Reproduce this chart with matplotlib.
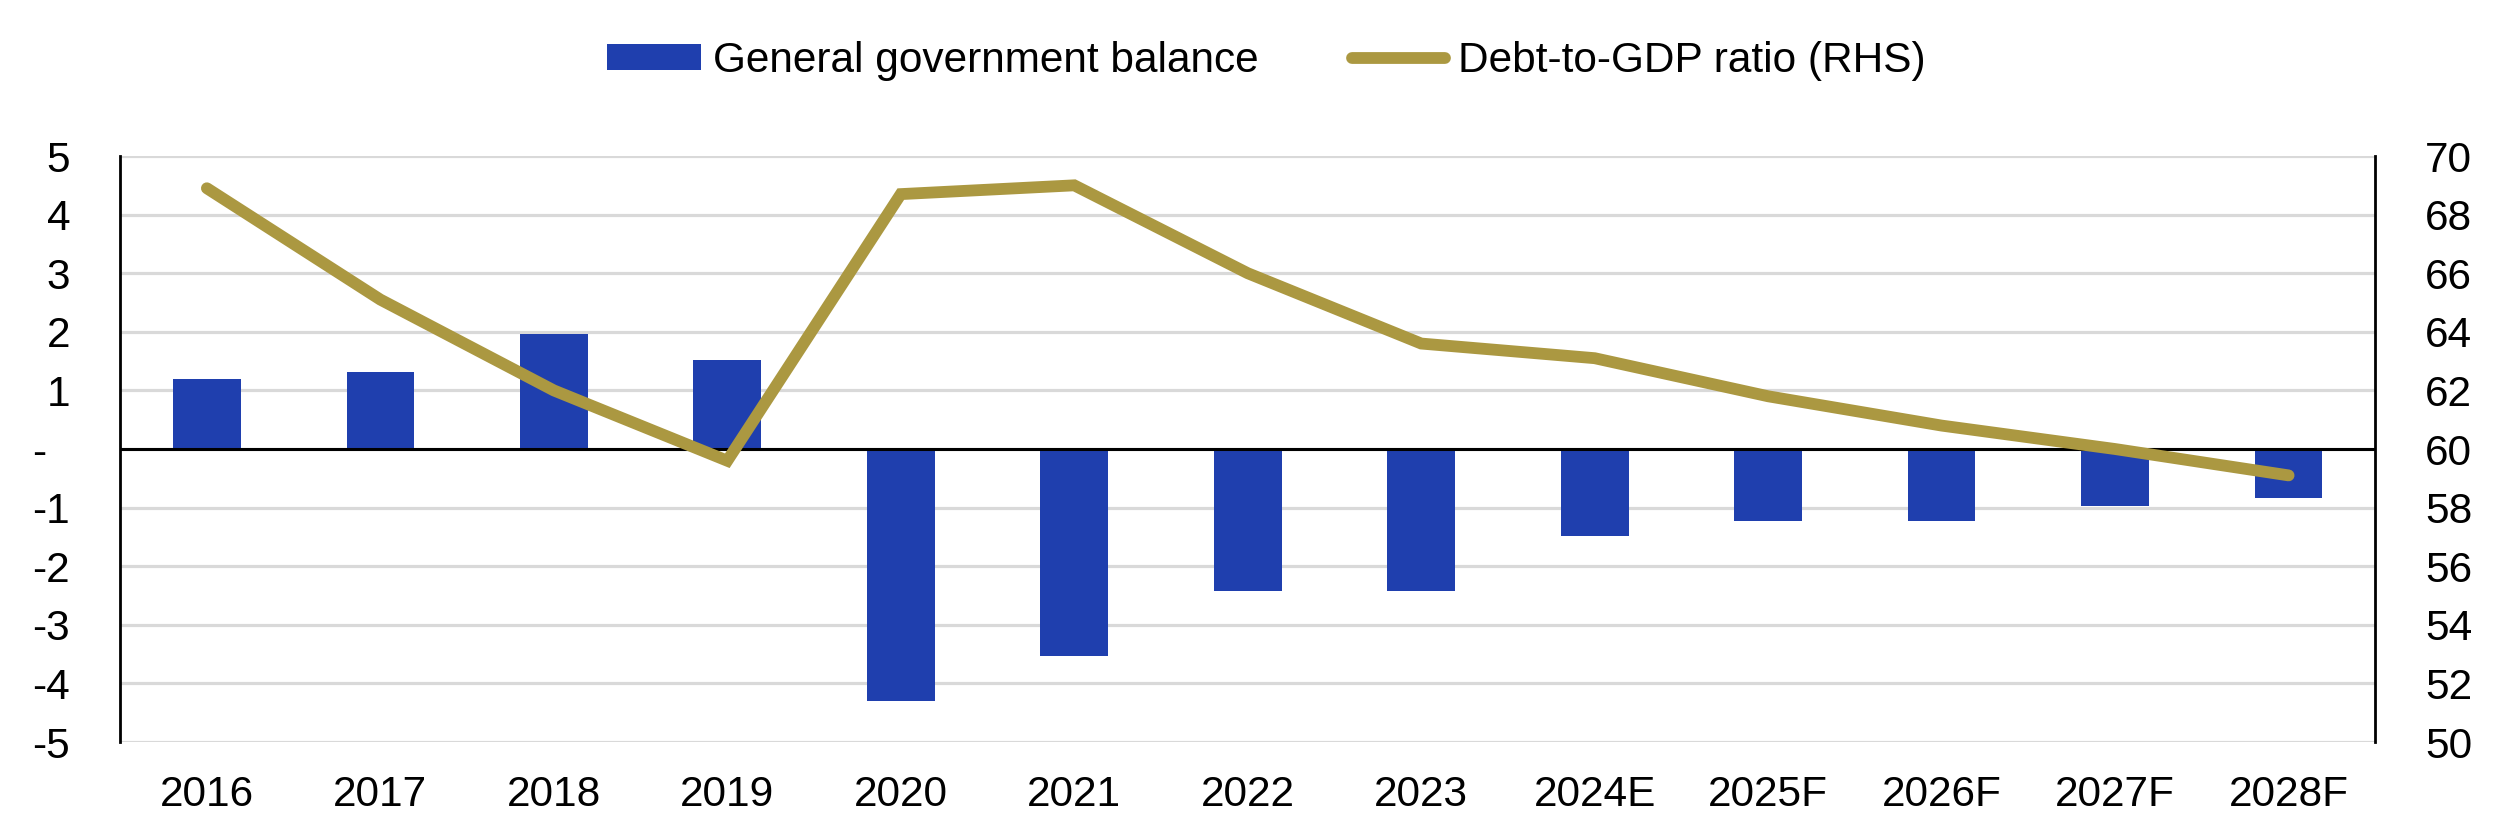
import matplotlib
matplotlib.use("Agg")
import matplotlib.pyplot as plt
import numpy as np

plt.rcParams['font.family'] = ['Liberation Sans', 'DejaVu Sans']

categories = ["2016", "2017", "2018", "2019", "2020", "2021", "2022", "2023",
              "2024E", "2025F", "2026F", "2027F", "2028F"]
balance = [1.19, 1.31, 1.96, 1.52, -4.3, -3.53, -2.43, -2.43, -1.48, -1.22, -1.22, -0.97, -0.84]
debt = [68.9, 65.1, 62.0, 59.6, 68.7, 69.0, 66.0, 63.6, 63.1, 61.8, 60.8, 60.0, 59.1]

left_ticks = [5, 4, 3, 2, 1, 0, -1, -2, -3, -4, -5]
left_labels = ["5", "4", "3", "2", "1", "-  ", "-1", "-2", "-3", "-4", "-5"]
right_ticks = [50, 52, 54, 56, 58, 60, 62, 64, 66, 68, 70]

BLUE = "#1f3fae"
GOLD = "#ab9841"
GRID = "#d9d9d9"
FS = 30.5

fig = plt.figure(figsize=(25.03, 8.33), dpi=100)
ax = fig.add_axes([0.048, 0.1092, 0.901, 0.7035])
x = np.arange(len(categories))

ax.set_ylim(-5, 5)
ax.set_xlim(-0.5, len(categories) - 0.5)
ax.set_yticks(left_ticks)
ax.set_yticklabels(left_labels)
ax.yaxis.grid(True, color=GRID, linewidth=2.3, zorder=0)
ax.set_axisbelow(True)
bars = ax.bar(x, balance, width=0.39, color=BLUE, zorder=2, label="General government balance")
ax.axhline(0, color="black", linewidth=2.2, zorder=3)

ax.set_xticks(x)
ax.set_xticklabels(categories)
ax.tick_params(axis='x', length=0, pad=24, labelsize=FS)
ax.tick_params(axis='y', length=0, pad=36, labelsize=FS)
for s in ["top", "bottom", "right"]:
    ax.spines[s].set_visible(False)
ax.spines["left"].set_linewidth(2.0)

ax2 = ax.twinx()
ax2.set_ylim(50, 70)
ax2.set_yticks(right_ticks)
ax2.set_yticklabels([str(t) for t in right_ticks])
ax2.tick_params(axis='y', length=0, pad=36, labelsize=FS)
for s in ["top", "bottom", "left"]:
    ax2.spines[s].set_visible(False)
ax2.spines["right"].set_linewidth(2.0)
line, = ax2.plot(x, debt, color=GOLD, linewidth=8.5, solid_capstyle="round",
                 solid_joinstyle="miter", label="Debt-to-GDP ratio (RHS)", zorder=4)

fig.legend(handles=[bars, line], loc="center", bbox_to_anchor=(0.506, 0.927),
           ncol=2, frameon=False, fontsize=FS, handlelength=2.2, handleheight=0.55,
           handletextpad=0.3, columnspacing=2.2)

fig.savefig("out.png", dpi=100)
